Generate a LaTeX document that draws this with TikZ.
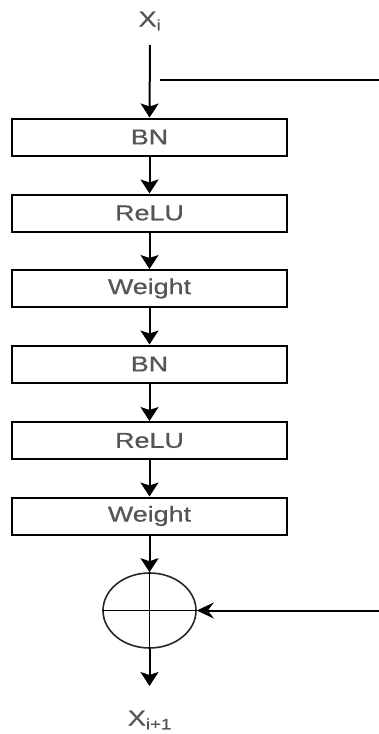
\documentclass[tikz,border=0pt]{standalone}
\usepackage{fontspec}
\usepackage{graphicx}
\setmainfont{Liberation Sans}
\newfontfamily\lblfont[FakeBold=0.6]{Liberation Sans}
\usetikzlibrary{arrows.meta,shapes.geometric}
\definecolor{txtgray}{HTML}{555555}
\newcommand\wtxt[1]{\scalebox{1.25}[1]{#1}}
\tikzset{
  layer/.style={draw=black, line width=2pt, minimum width=275pt, minimum height=37pt, inner sep=0pt,
    font=\lblfont\fontsize{21.5}{24}\selectfont, text=txtgray},
  lbl/.style={inner sep=0pt, font=\lblfont\fontsize{21.5}{24}\selectfont, text=txtgray},
  flow/.style={line width=2pt, -{Stealth[length=14pt,width=18pt,inset=3pt]}},
  plain/.style={line width=2pt},
  sumnode/.style={ellipse, draw=black!85, line width=1.6pt, minimum width=93pt, minimum height=75pt, inner sep=0pt}
}
\begin{document}
\begin{tikzpicture}[x=1pt,y=-1pt]
\useasboundingbox (0,0) rectangle (379,734);
\node[lbl] (xi) at (150,21) {\wtxt{X\textsubscript{i}}};
\coordinate (xstart) at (150,45);
\coordinate (skipstart) at (160,80);
\coordinate (skipend) at (379,80);
\node[layer] (bn1) at (149.5,137) {\wtxt{BN}};
\node[layer] (relu1) at (149.5,213) {\wtxt{ReLU}};
\node[layer] (w1) at (149.5,288.5) {\wtxt{Weight}};
\node[layer] (bn2) at (149.5,364) {\wtxt{BN}};
\node[layer] (relu2) at (149.5,440.5) {\wtxt{ReLU}};
\node[layer] (w2) at (149.5,516) {\wtxt{Weight}};
\node[sumnode] (sum) at (149.5,610.5) {};
\coordinate (outend) at (149.5,686);
\coordinate (resin) at (379,610.5);
\node[lbl] (xo) at (150,720) {\wtxt{X\textsubscript{i+1}}};

\draw[flow] (xstart) -- (bn1.north);
\draw[plain] (skipstart) -- (skipend);
\draw[flow] (bn1) -- (relu1);
\draw[flow] (relu1) -- (w1);
\draw[flow] (w1) -- (bn2);
\draw[flow] (bn2) -- (relu2);
\draw[flow] (relu2) -- (w2);
\draw[flow] (w2) -- (sum.north);
\draw[line width=1.8pt] (sum.north) -- (sum.south);
\draw[line width=1.8pt] (sum.west) -- (sum.east);
\draw[flow] (sum.south) -- (outend);
\draw[line width=2pt, -{Stealth[length=17pt,width=16pt,inset=6pt]}] (resin) -- (sum.east);
\end{tikzpicture}
\end{document}
